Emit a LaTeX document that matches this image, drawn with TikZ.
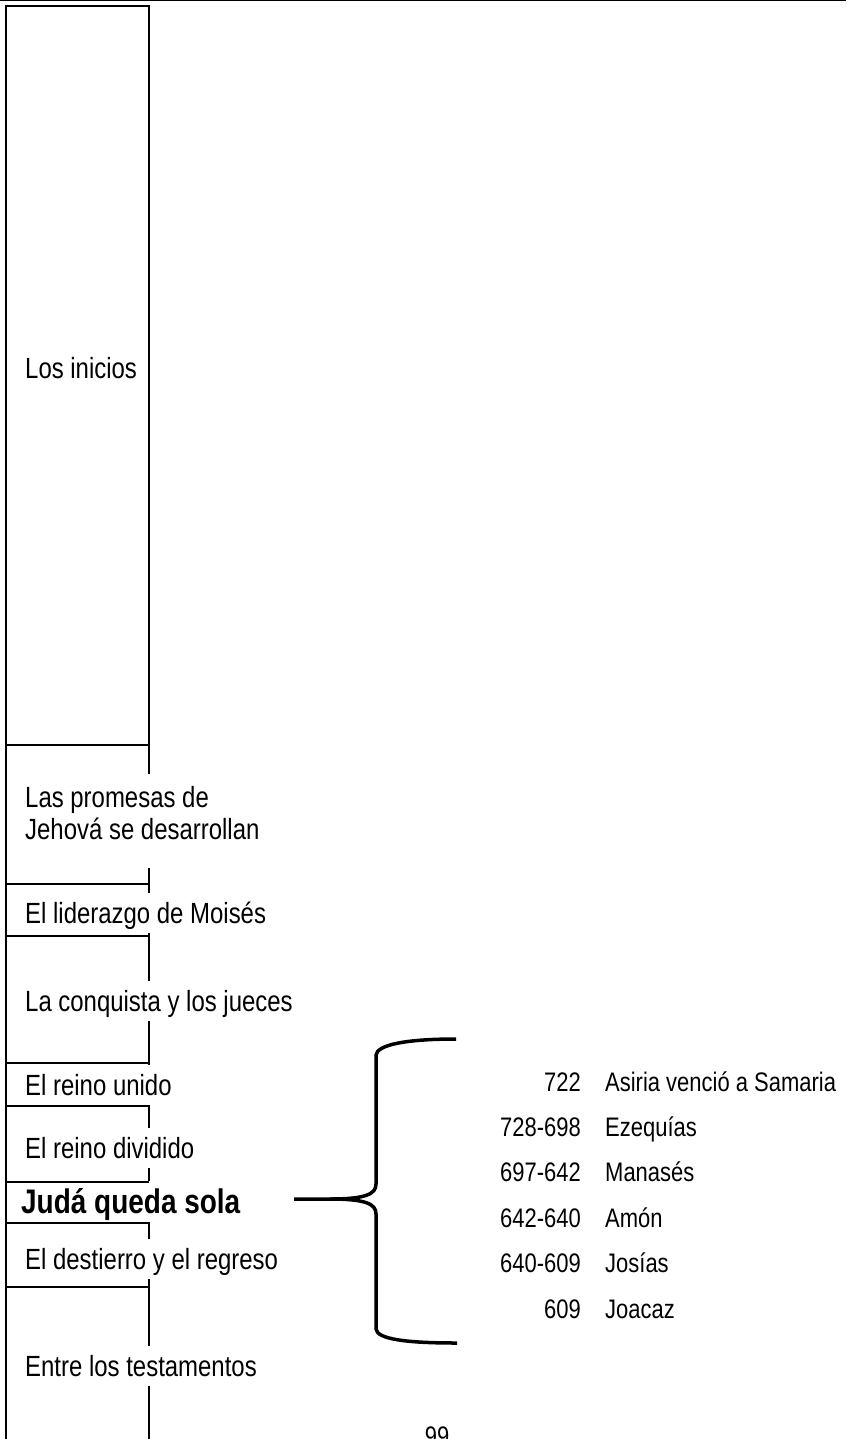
\documentclass[tikz,border=0pt]{standalone}
\usepackage{fontspec}
\setmainfont{Liberation Sans}[FakeStretch=0.82]
\newcommand{\etapafont}{\fontsize{29.2}{32.5}\selectfont}
\newcommand{\listafont}{\fontsize{26.8}{30}\selectfont}
\tikzset{
	linea/.style={line width=1.6pt},
	etapa/.style={anchor=west, fill=white, inner xsep=3pt, inner ysep=0pt, minimum height=40pt, text height=21pt, text depth=0pt, font=\etapafont},
	anio/.style={anchor=base east, inner sep=0pt, font=\listafont},
	rey/.style={anchor=base west, inner sep=0pt, font=\listafont},
	llave/.style={line width=3.5pt, line join=round}
}
\begin{document}
\begin{tikzpicture}[x=1pt,y=-1pt]
	\useasboundingbox (0,0) rectangle (846,1439);
		%Encabezado
	\draw[line width=1.5pt] (0,0.75) -- (846,0.75); %Linea superior de la pagina
		%Columna de etapas
	\draw[linea] (6,1445) -- (6,6) -- (149,6) -- (149,1445); %Bordes de la columna
	\node[etapa] (inicios) at (22,368) {Los inicios};
	\node[etapa, text height=, text depth=, minimum height=94pt, align=left] (promesas) at (22,821) {Las promesas de\\Jehová se desarrollan\rule[-16.5pt]{0pt}{16.5pt}};
	\node[etapa] (moises) at (22,913) {El liderazgo de Moisés};
	\node[etapa] (conquista) at (22,1001) {La conquista y los jueces};
	\node[etapa] (unido) at (22,1085) {El reino unido};
	\node[etapa] (dividido) at (22,1148) {El reino dividido};
	\node[etapa, font=\fontsize{34.1}{38}\selectfont\bfseries, text height=24.4pt, minimum height=41pt] (juda) at (18,1201) {Judá queda sola}; %Etapa resaltada
	\node[etapa] (destierro) at (22,1259) {El destierro y el regreso};
	\node[etapa] (testamentos) at (22,1366) {Entre los testamentos};
	\foreach \y in {745,884,936,1063,1106,1182,1223,1287}
		\draw[linea] (6,\y) -- (149,\y); %Divisiones entre etapas
		%Llave
	\coordinate (punta) at (294,1199);
	\coordinate (llave-sup) at (456,1039);
	\coordinate (llave-inf) at (457,1343);
	\draw[llave] (punta) -- (330,1199) .. controls (366,1199) and (376,1194) .. (376,1184) -- (376,1055) .. controls (377,1045) and (405,1039) .. (llave-sup); %Mitad de arriba
	\draw[llave] (330,1199) .. controls (366,1199) and (376,1204) .. (376,1214) -- (376,1329) .. controls (377,1339) and (405,1343) .. (llave-inf); %Mitad de abajo
		%Reyes de Juda
	\foreach \anio/\rey [count=\i from 0] in {722/Asiria venció a Samaria, 728-698/Ezequías, 697-642/Manasés, 642-640/Amón, 640-609/Josías, 609/Joacaz}{
		\node[anio] (anio\i) at (581,1091+45.4*\i) {\anio};
		\node[rey] (rey\i) at (605,1091+45.4*\i) {\rey};
	}
		%Numero de pagina
	\node[font=\listafont, anchor=base, inner sep=0pt] (pagina) at (437,1445) {99};
\end{tikzpicture}
\end{document}
